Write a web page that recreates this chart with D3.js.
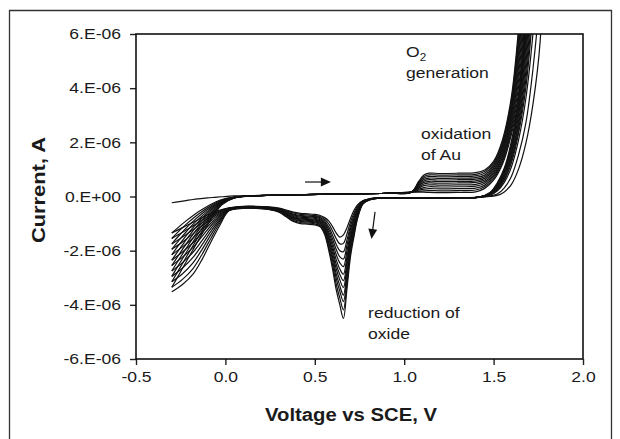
<!DOCTYPE html>
<html><head><meta charset="utf-8">
<script src="https://cdn.jsdelivr.net/npm/d3@7"></script>
<style>
html,body{margin:0;padding:0;background:#fff;}
svg{display:block;}
text{font-family:"Liberation Sans", Arial, Helvetica, sans-serif; fill:#1a1a1a;}
</style></head><body>
<svg id="chart" width="620" height="439"></svg>
<script>
// ---------------- DATA (currents in microamps; one column per cycle) ----------------
const cycleNames = ["c1","c2","c3","c4","c5","c6","c7","c8","c9","c10","c11","c12"];

// Anodic (forward) sweep voltages, V vs SCE
const forwardVolts = [-0.30,-0.26,-0.22,-0.18,-0.14,-0.10,-0.06,-0.02,0.05,0.3,0.6,0.9,1.04,1.08,1.11,1.14,1.2,1.3,1.4,1.45,1.5,1.55,1.6,1.65,1.7,1.75,1.80];
// rows follow forwardVolts, columns follow cycleNames (µA)
const forwardCurrents = [
 [-0.23,-1.35,-1.55,-1.75,-1.95,-2.15,-2.35,-2.55,-2.75,-2.95,-3.15,-3.35],
 [-0.19,-1.12,-1.28,-1.45,-1.62,-1.79,-1.97,-2.15,-2.33,-2.51,-2.70,-2.89],
 [-0.15,-0.90,-1.03,-1.17,-1.31,-1.45,-1.60,-1.76,-1.92,-2.08,-2.25,-2.42],
 [-0.11,-0.70,-0.80,-0.91,-1.02,-1.14,-1.26,-1.39,-1.52,-1.66,-1.80,-1.95],
 [-0.08,-0.52,-0.60,-0.68,-0.77,-0.86,-0.95,-1.05,-1.15,-1.26,-1.37,-1.49],
 [-0.05,-0.36,-0.42,-0.48,-0.54,-0.60,-0.67,-0.74,-0.81,-0.89,-0.97,-1.05],
 [-0.03,-0.22,-0.26,-0.30,-0.34,-0.38,-0.42,-0.46,-0.50,-0.55,-0.60,-0.65],
 [-0.01,-0.11,-0.13,-0.15,-0.17,-0.19,-0.21,-0.23,-0.25,-0.27,-0.29,-0.31],
 [0.02,-0.02,-0.02,-0.03,-0.03,-0.03,-0.04,-0.04,-0.04,-0.05,-0.05,-0.05],
 [0.05,0.05,0.05,0.05,0.05,0.05,0.05,0.05,0.05,0.05,0.05,0.05],
 [0.09,0.09,0.09,0.09,0.09,0.09,0.09,0.09,0.09,0.09,0.09,0.09],
 [0.12,0.12,0.12,0.12,0.12,0.12,0.12,0.12,0.12,0.12,0.12,0.12],
 [0.16,0.16,0.16,0.16,0.16,0.16,0.16,0.16,0.16,0.16,0.16,0.16],
 [0.16,0.19,0.23,0.27,0.31,0.35,0.38,0.41,0.45,0.48,0.51,0.55],
 [0.16,0.21,0.27,0.33,0.40,0.46,0.52,0.57,0.63,0.68,0.74,0.79],
 [0.15,0.22,0.29,0.36,0.43,0.50,0.56,0.62,0.68,0.74,0.80,0.86],
 [0.14,0.21,0.28,0.35,0.42,0.49,0.55,0.61,0.67,0.73,0.79,0.85],
 [0.15,0.22,0.29,0.36,0.43,0.50,0.56,0.62,0.68,0.74,0.80,0.86],
 [0.17,0.24,0.31,0.38,0.45,0.52,0.58,0.64,0.70,0.76,0.82,0.88],
 [0.30,0.36,0.42,0.49,0.55,0.61,0.67,0.73,0.79,0.86,0.92,0.98],
 [0.60,0.66,0.73,0.79,0.85,0.92,0.98,1.05,1.11,1.17,1.24,1.30],
 [1.20,1.28,1.36,1.45,1.53,1.61,1.69,1.77,1.85,1.94,2.02,2.10],
 [2.30,2.43,2.55,2.68,2.81,2.94,3.06,3.19,3.32,3.45,3.57,3.70],
 [4.00,4.27,4.55,4.82,5.09,5.36,5.64,5.91,6.18,6.45,6.73,7.00],
 [7.2,7.55,7.9,8.2,8.6,8.9,9.3,9.6,10.0,10.3,10.7,11.0],
 [11,11.3,11.5,11.8,12.1,12.4,12.6,12.9,13.2,13.5,13.7,14],
 [14,14.2,14.4,14.5,14.7,14.9,15.1,15.3,15.5,15.6,15.8,16]
];

// Cathodic (reverse) sweep voltages
const reverseVolts = [1.76,1.72,1.68,1.64,1.60,1.56,1.52,1.48,1.42,1.3,1.1,0.95,
 0.86,0.81,0.77,0.74,0.72,0.70,0.68,0.66,0.64,0.62,0.60,0.58,0.555,0.53,0.50,0.46,0.42,0.38,0.34,0.30,0.24,0.17,0.10,
 0.02,-0.03,-0.08,-0.13,-0.18,-0.24,-0.30];
const reverseCurrents = [
 [5.7,7.6,9.5,10,10.5,11,11.5,12,12.5,13,13.5,14],
 [3.4,4.7,6.0,6.8,7.2,7.6,8.0,8.5,9.0,9.5,10,10.5],
 [1.95,2.7,3.6,4.0,4.3,4.6,4.9,5.2,5.5,6.0,6.4,6.8],
 [1.02,1.55,2.1,2.35,2.5,2.65,2.8,3.0,3.15,3.3,3.5,3.7],
 [0.45,0.75,1.1,1.25,1.35,1.45,1.55,1.65,1.75,1.85,1.95,2.05],
 [0.17,0.32,0.52,0.6,0.66,0.72,0.78,0.84,0.9,0.95,1.0,1.05],
 [0.04,0.09,0.2,0.24,0.27,0.3,0.33,0.36,0.4,0.43,0.46,0.5],
 [0.0,0.02,0.05,0.07,0.08,0.09,0.1,0.11,0.12,0.13,0.14,0.15],
 [-0.03,-0.03,-0.02,-0.02,-0.02,-0.02,-0.02,-0.02,-0.02,-0.02,-0.02,-0.02],
 [-0.04,-0.04,-0.04,-0.04,-0.04,-0.04,-0.04,-0.04,-0.04,-0.04,-0.04,-0.04],
 [-0.05,-0.05,-0.05,-0.05,-0.05,-0.05,-0.05,-0.05,-0.05,-0.05,-0.05,-0.05],
 [-0.05,-0.05,-0.05,-0.05,-0.05,-0.05,-0.05,-0.05,-0.05,-0.05,-0.05,-0.05],
 [-0.05,-0.05,-0.05,-0.05,-0.05,-0.05,-0.06,-0.06,-0.06,-0.06,-0.06,-0.06],
 [-0.08,-0.08,-0.09,-0.09,-0.10,-0.10,-0.10,-0.11,-0.11,-0.11,-0.12,-0.12],
 [-0.15,-0.16,-0.17,-0.18,-0.20,-0.21,-0.22,-0.23,-0.24,-0.25,-0.26,-0.27],
 [-0.30,-0.35,-0.40,-0.45,-0.49,-0.54,-0.58,-0.62,-0.66,-0.70,-0.75,-0.80],
 [-0.50,-0.60,-0.69,-0.78,-0.86,-0.95,-1.02,-1.10,-1.18,-1.26,-1.36,-1.45],
 [-0.80,-0.94,-1.08,-1.21,-1.33,-1.46,-1.57,-1.68,-1.81,-1.92,-2.06,-2.20],
 [-1.15,-1.38,-1.60,-1.80,-2.01,-2.21,-2.39,-2.57,-2.77,-2.95,-3.18,-3.40],
 [-1.42,-1.73,-2.04,-2.31,-2.59,-2.87,-3.11,-3.36,-3.64,-3.88,-4.19,-4.50],
 [-1.50,-1.75,-2.00,-2.23,-2.45,-2.68,-2.88,-3.08,-3.30,-3.50,-3.75,-4.00],
 [-1.35,-1.56,-1.77,-1.96,-2.15,-2.34,-2.51,-2.67,-2.86,-3.03,-3.24,-3.45],
 [-1.12,-1.28,-1.44,-1.58,-1.72,-1.86,-1.99,-2.12,-2.26,-2.38,-2.54,-2.70],
 [-0.92,-1.03,-1.15,-1.25,-1.35,-1.45,-1.54,-1.63,-1.73,-1.82,-1.94,-2.05],
 [-0.78,-0.84,-0.90,-0.96,-1.02,-1.07,-1.12,-1.17,-1.23,-1.28,-1.34,-1.40],
 [-0.70,-0.74,-0.78,-0.82,-0.86,-0.90,-0.93,-0.96,-1.00,-1.04,-1.08,-1.12],
 [-0.66,-0.70,-0.74,-0.77,-0.81,-0.84,-0.87,-0.91,-0.94,-0.97,-1.01,-1.05],
 [-0.64,-0.68,-0.72,-0.75,-0.78,-0.82,-0.85,-0.88,-0.91,-0.94,-0.98,-1.02],
 [-0.62,-0.66,-0.70,-0.73,-0.76,-0.80,-0.83,-0.86,-0.89,-0.92,-0.96,-1.00],
 [-0.58,-0.61,-0.65,-0.68,-0.71,-0.74,-0.77,-0.79,-0.82,-0.85,-0.89,-0.92],
 [-0.50,-0.53,-0.55,-0.57,-0.60,-0.62,-0.64,-0.66,-0.68,-0.70,-0.73,-0.75],
 [-0.43,-0.45,-0.46,-0.47,-0.49,-0.50,-0.51,-0.52,-0.54,-0.55,-0.57,-0.58],
 [-0.38,-0.39,-0.40,-0.41,-0.42,-0.43,-0.44,-0.44,-0.45,-0.46,-0.47,-0.48],
 [-0.36,-0.37,-0.38,-0.38,-0.39,-0.40,-0.40,-0.41,-0.42,-0.42,-0.43,-0.44],
 [-0.36,-0.37,-0.38,-0.38,-0.39,-0.40,-0.40,-0.41,-0.42,-0.42,-0.43,-0.44],
 [-0.42,-0.43,-0.44,-0.45,-0.46,-0.47,-0.48,-0.49,-0.50,-0.51,-0.52,-0.53],
 [-0.50,-0.53,-0.56,-0.60,-0.64,-0.68,-0.73,-0.78,-0.84,-0.90,-0.97,-1.05],
 [-0.62,-0.68,-0.75,-0.82,-0.90,-0.98,-1.07,-1.17,-1.28,-1.40,-1.53,-1.67],
 [-0.78,-0.87,-0.97,-1.08,-1.20,-1.33,-1.47,-1.62,-1.78,-1.95,-2.13,-2.32],
 [-0.95,-1.08,-1.22,-1.37,-1.53,-1.70,-1.87,-2.05,-2.24,-2.44,-2.65,-2.86],
 [-1.15,-1.32,-1.50,-1.68,-1.86,-2.05,-2.24,-2.44,-2.64,-2.85,-3.06,-3.25],
 [-1.35,-1.55,-1.75,-1.95,-2.15,-2.35,-2.55,-2.75,-2.95,-3.15,-3.35,-3.52]
];

const xTicks = [-0.5, 0.0, 0.5, 1.0, 1.5, 2.0];
const xTickLabels = ["-0.5","0.0","0.5","1.0","1.5","2.0"];
const yTicks = [-6e-6,-4e-6,-2e-6,0,2e-6,4e-6,6e-6];
const yTickLabels = ["-6.E-06","-4.E-06","-2.E-06","0.E+00","2.E-06","4.E-06","6.E-06"];

// annotations placed in data coordinates (V, µA)
const annotationTexts = [
  {v:1.01, i:5.15, text:"O", sub:"2"},
  {v:1.01, i:4.38, text:"generation"},
  {v:1.094, i:2.12, text:"oxidation"},
  {v:1.094, i:1.35, text:"of Au"},
  {v:0.798, i:-4.49, text:"reduction of"},
  {v:0.798, i:-5.27, text:"oxide"}
];
const arrowMarks = [
  {v0:0.445, i0:0.535, v1:0.59, i1:0.535},
  {v0:0.837, i0:-0.57, v1:0.817, i1:-1.57}
];

// ---------------- LAYOUT ----------------
const W = 620, H = 439;
const plot = {left:136, right:583, top:34, bottom:359};
const textStretch = 1.17;
const micro = 1e-6;

const svg = d3.select("#chart");
const x = d3.scaleLinear().domain([-0.5, 2.0]).range([plot.left, plot.right]);
const y = d3.scaleLinear().domain([-6e-6, 6e-6]).range([plot.bottom, plot.top]);

// outer frame
svg.append("path")
  .attr("d", `M9.5,${H} L9.5,10.5 L611.5,10.5 L611.5,${H}`)
  .attr("fill","none").attr("stroke","#333").attr("stroke-width",1.3);

svg.append("clipPath").attr("id","plotClip").append("rect")
  .attr("x",plot.left).attr("y",plot.top)
  .attr("width",plot.right-plot.left).attr("height",plot.bottom-plot.top);

// curves
const line = d3.line()
  .x(d => x(d[0])).y(d => y(d[1]))
  .curve(d3.curveCatmullRom.alpha(0.5));

const cycles = cycleNames.map((name, k) =>
  forwardVolts.map((v, r) => [v, forwardCurrents[r][k] * micro])
    .concat(reverseVolts.map((v, r) => [v, reverseCurrents[r][k] * micro])));

svg.append("g").attr("clip-path","url(#plotClip)")
  .selectAll("path").data(cycles).join("path")
  .attr("d", line)
  .attr("fill","none").attr("stroke","#111").attr("stroke-width",1.2)
  .attr("stroke-linejoin","round");

// axes
const xAxis = d3.axisBottom(x).tickValues(xTicks)
  .tickFormat((d,i) => xTickLabels[i]).tickSize(6).tickPadding(6);
const yAxis = d3.axisLeft(y).tickValues(yTicks)
  .tickFormat((d,i) => yTickLabels[i]).tickSize(6).tickPadding(9);

const gx = svg.append("g").attr("transform",`translate(0,${plot.bottom})`).call(xAxis);
const gy = svg.append("g").attr("transform",`translate(${plot.left},0)`).call(yAxis);
[gx, gy].forEach(g => {
  g.select(".domain").remove();
  g.selectAll(".tick line").attr("stroke","#222").attr("stroke-width",1.4);
  g.selectAll(".tick text")
    .attr("font-family","Liberation Sans, Arial, sans-serif")
    .attr("font-size",15).attr("fill","#1a1a1a");
});
gy.selectAll(".tick text").each(function(){
  const t = d3.select(this);
  const xx = +t.attr("x");
  t.attr("x", xx / textStretch).attr("transform", `scale(${textStretch},1)`);
});
gx.selectAll(".tick text").attr("transform", `scale(${textStretch},1)`);

// plot frame
svg.append("rect")
  .attr("x",plot.left).attr("y",plot.top)
  .attr("width",plot.right-plot.left).attr("height",plot.bottom-plot.top)
  .attr("fill","none").attr("stroke","#111").attr("stroke-width",1.6);

// axis titles
svg.append("text")
  .attr("x", 351).attr("y", 421)
  .attr("text-anchor","middle").attr("font-size",18).attr("font-weight","bold")
  .attr("textLength",172).attr("lengthAdjust","spacingAndGlyphs")
  .text("Voltage vs SCE, V");
svg.append("text")
  .attr("transform","translate(45,190) rotate(-90)")
  .attr("text-anchor","middle").attr("font-size",18).attr("font-weight","bold")
  .attr("textLength",106).attr("lengthAdjust","spacingAndGlyphs")
  .text("Current, A");

// annotation texts
annotationTexts.forEach(a => {
  const g = svg.append("g")
    .attr("transform",`translate(${x(a.v)},${y(a.i*micro)}) scale(${textStretch},1)`);
  const t = g.append("text").attr("font-size",15).text(a.text);
  if (a.sub) t.append("tspan").attr("font-size",10).attr("dy",4).text(a.sub);
});

// arrows
arrowMarks.forEach(a => {
  const p0 = [x(a.v0), y(a.i0*micro)], p1 = [x(a.v1), y(a.i1*micro)];
  const dx = p1[0]-p0[0], dy = p1[1]-p0[1], len = Math.hypot(dx,dy);
  const ux = dx/len, uy = dy/len, nx = -uy, ny = ux;
  const L = 10, Wd = 4.5;
  svg.append("line")
    .attr("x1",p0[0]).attr("y1",p0[1])
    .attr("x2",p1[0]-ux*L*0.7).attr("y2",p1[1]-uy*L*0.7)
    .attr("stroke","#111").attr("stroke-width",1.2);
  svg.append("path")
    .attr("d",`M${p1[0]},${p1[1]} L${p1[0]-ux*L+nx*Wd},${p1[1]-uy*L+ny*Wd} L${p1[0]-ux*L-nx*Wd},${p1[1]-uy*L-ny*Wd} Z`)
    .attr("fill","#111");
});
</script>
</body></html>
